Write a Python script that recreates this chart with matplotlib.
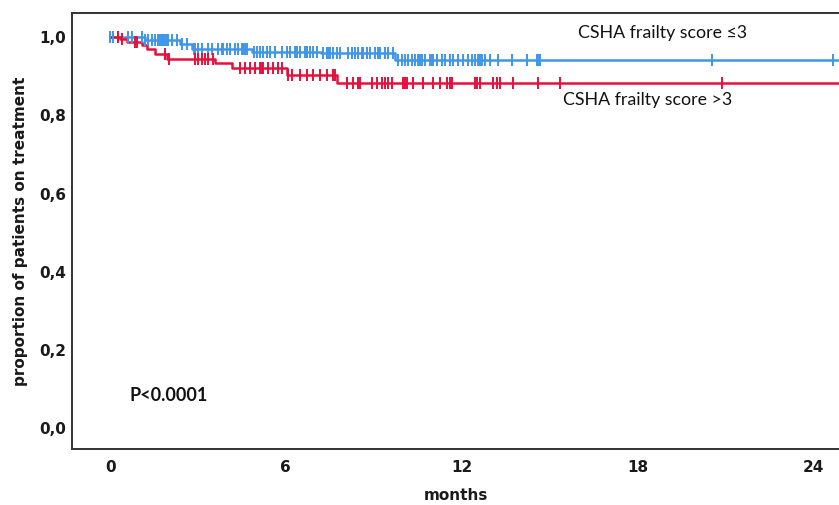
import numpy as np
import matplotlib
matplotlib.use("Agg")
import matplotlib.pyplot as plt

# ---- data (months, survival proportion) ----
blue_times = [0.0, 1.19, 2.39, 2.80, 4.85, 7.20, 9.73]
blue_surv = [1.0, 0.993, 0.982, 0.971, 0.963, 0.960, 0.942]

red_times = [0.0, 0.34, 0.58, 1.09, 1.26, 1.54, 1.95, 3.58, 4.16, 6.04, 7.75]
red_surv = [1.0, 0.996, 0.989, 0.980, 0.969, 0.958, 0.945, 0.934, 0.921, 0.903, 0.884]

blue_censor = [0.0, 0.10, 0.27, 0.61, 0.75, 1.09, 1.19, 1.30, 1.43, 1.54, 1.64, 1.71, 1.77, 1.81,
               1.88, 1.95, 1.98, 2.12, 2.29, 2.46, 2.63, 2.85, 2.90, 3.00, 3.14, 3.34, 3.48, 3.69,
               3.82, 3.86, 3.99, 4.10, 4.27, 4.37, 4.51, 4.54, 4.61, 4.68, 4.90, 5.02, 5.12, 5.22,
               5.36, 5.46, 5.63, 5.87, 6.04, 6.14, 6.31, 6.38, 6.48, 6.66, 6.72, 6.83, 6.93, 7.06,
               7.27, 7.41, 7.44, 7.51, 7.61, 7.75, 7.85, 8.12, 8.26, 8.36, 8.46, 8.60, 8.63, 8.77,
               8.87, 9.04, 9.15, 9.22, 9.39, 9.49, 9.66, 9.83, 9.97, 10.07, 10.17, 10.31, 10.41,
               10.51, 10.58, 10.65, 10.75, 10.92, 10.99, 11.02, 11.16, 11.33, 11.43, 11.60, 11.71,
               11.88, 12.05, 12.22, 12.35, 12.46, 12.56, 12.63, 12.70, 12.80, 12.97, 13.24, 13.72,
               14.23, 14.57, 14.61, 14.68, 20.55, 24.68]

red_censor = [0.27, 0.41, 0.85, 0.92, 1.88, 2.00, 2.90, 3.00, 3.14, 3.24, 3.34, 3.52, 4.44, 4.61,
              4.78, 4.95, 5.12, 5.19, 5.22, 5.39, 5.56, 5.73, 5.87, 6.08, 6.21, 6.48, 6.72, 6.93,
              7.17, 7.41, 7.61, 7.68, 8.09, 8.29, 8.46, 8.53, 8.94, 9.11, 9.28, 9.39, 9.49, 9.62,
              10.0, 10.07, 10.14, 10.34, 10.68, 11.02, 11.26, 11.50, 11.60, 11.67, 12.46, 12.53,
              12.63, 13.07, 13.21, 13.31, 13.75, 14.61, 15.36, 20.89]

x_ticks = [0, 6, 12, 18, 24]
y_ticks = [0.0, 0.2, 0.4, 0.6, 0.8, 1.0]
y_ticklabels = ["0,0", "0,2", "0,4", "0,6", "0,8", "1,0"]
end_time = 26.0

BLUE = "#3f96e8"
RED = "#e5103c"

fig = plt.figure(figsize=(8.39, 5.05), dpi=100)
ax = fig.add_axes([0.0858, 0.111, 0.9142, 0.863])


def km_curve(times, surv, censor, color):
    t = list(times) + [end_time]
    s = list(surv) + [surv[-1]]
    ax.step(t, s, where="post", color=color, lw=1.8, zorder=2)
    idx = np.searchsorted(np.array(times), np.array(censor), side="right") - 1
    cy = np.array(surv)[idx]
    ax.plot(censor, cy, ls="none", marker="|", ms=8, mew=1.4, color=color, zorder=3)


km_curve(blue_times, blue_surv, blue_censor, BLUE)
km_curve(red_times, red_surv, red_censor, RED)

ax.set_xlim(-1.30, 24.88)
ax.set_ylim(-0.054, 1.062)
ax.set_xticks(x_ticks)
ax.set_xticklabels([str(v) for v in x_ticks])
ax.set_yticks(y_ticks)
ax.set_yticklabels(y_ticklabels)
ax.tick_params(length=0, labelsize=11)
ax.tick_params(axis="x", pad=8)
ax.tick_params(axis="y", pad=4)
for lab in ax.get_xticklabels() + ax.get_yticklabels():
    lab.set_fontfamily("DejaVu Sans")
    lab.set_fontweight("bold")
    lab.set_color("#1a1a1a")

for sp in ["left", "bottom", "top"]:
    ax.spines[sp].set_color("#333333")
    ax.spines[sp].set_linewidth(1.4)
ax.spines["right"].set_visible(False)

ax.set_xlabel("months", fontsize=11, fontweight="bold", family="DejaVu Sans", labelpad=9,
              color="#1a1a1a")
ax.set_ylabel("proportion of patients on treatment", fontsize=11, fontweight="bold",
              family="DejaVu Sans", labelpad=8, color="#1a1a1a")

ax.text(0.68, 0.084, "P<0.0001", fontsize=13, fontweight="bold", family=["Lato", "DejaVu Sans"],
        va="center", ha="left", color="#111111")
ax.text(0.660, 0.955, "CSHA frailty score ≤3", fontsize=12.8, family=["Lato", "DejaVu Sans"],
        transform=ax.transAxes, va="center", ha="left", color="#111111")
ax.text(0.640, 0.800, "CSHA frailty score >3", fontsize=12.8, family=["Lato", "DejaVu Sans"],
        transform=ax.transAxes, va="center", ha="left", color="#111111")

fig.savefig("out.png", dpi=100)
